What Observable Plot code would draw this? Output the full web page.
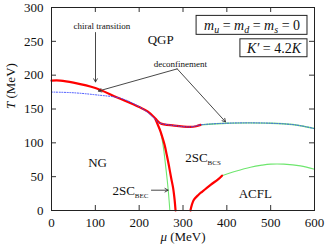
<!DOCTYPE html>
<html><head><meta charset="utf-8">
<script src="https://cdn.jsdelivr.net/npm/d3@7"></script>
<script src="https://cdn.jsdelivr.net/npm/@observablehq/plot@0.6"></script>
<style>body{margin:0;background:#fff} svg{display:block}</style>
</head><body><div id="chart"></div>
<script>
// ---- tick values ----
const xTicks = [0, 100, 200, 300, 400, 500, 600];
const yTicks = [0, 50, 100, 150, 200, 250, 300];

// ---- chiral transition (red, thick): crossover + first-order segment ----
const chiralMu = [0, 20, 50, 100, 150, 200, 220, 237, 248, 280, 317, 330, 340];
const chiralT  = [192, 192, 189, 181, 167, 153, 146, 136, 129, 125.5, 123.5, 124.5, 126.5];

// ---- deconfinement (blue dotted) ----
const deconfMu = [0, 50, 100, 157, 190, 215, 230, 242, 248, 280, 317, 340, 400, 450, 500, 550, 575, 600];
const deconfT  = [175, 174, 171, 166, 157, 147, 139, 131, 129, 125.5, 123.5, 126.5, 129, 129.5, 129, 127, 124.5, 121];

// ---- 2SC / QGP second-order boundary (green) ----
const qgpGreenMu = [340, 400, 450, 500, 550, 575, 600];
const qgpGreenT  = [126.5, 129, 129.5, 129, 127, 124.5, 121];

// ---- NG / 2SC first-order boundary (red, thick) ----
const ngRedMu = [237, 243, 248, 253, 258, 263, 267.5, 273, 277.6, 281, 283];
const ngRedT  = [135, 126, 118, 108, 97, 82, 67.6, 48, 32.8, 15, 0];

// ---- BEC-BCS line (green) ----
const becGreenMu = [246, 249, 252, 256, 260, 264, 267, 270];
const becGreenT  = [122, 116, 106, 90, 68, 45, 25, 0];

// ---- 2SC / ACFL boundary: first-order (red) then second-order (green) ----
const acflRedMu = [317, 320, 325, 335, 344, 363, 380, 389];
const acflRedT  = [0, 8, 16, 23, 28, 38, 46, 51.5];
const acflGreenMu = [389, 420, 454, 480, 500, 530, 568, 600];
const acflGreenT  = [51.5, 58, 64, 67, 68.5, 68.5, 66, 61];

// ---- phase labels ----
const phaseText = ["QGP", "NG", "ACFL"];
const phaseMu = [249, 105, 465];
const phaseT = [251.5, 70.6, 25];

const scText = ["2SC_BCS", "2SC_BEC"];
const scMu = [305, 139];
const scT = [78.4, 29.4];

// ---- annotations ----
const noteText = ["chiral transition", "deconfinement"];
const noteMu = [115, 294];
const noteT = [272, 216.6];

const arrowMu1 = [100.4, 286.8, 286.8, 228];
const arrowT1  = [263, 209.3, 209.3, 30];
const arrowMu2 = [100.4, 107, 397, 266];
const arrowT2  = [190, 176.5, 131, 30];

// ---- parameter boxes ----
const boxText = ["mass", "kprime"];
const boxMu1 = [331, 431];
const boxMu2 = [584, 584];
const boxT1 = [259.6, 226.5];
const boxT2 = [287.6, 253];

const pts = (xs, ys) => xs.map((x, i) => ({mu: x, T: ys[i]}));

const RED = "#ff0000", GREEN = "#6ee66e", BLUE = "#3f4fff";

const plot = Plot.plot({
  width: 326, height: 247,
  marginLeft: 51, marginRight: 12, marginTop: 7, marginBottom: 37,
  style: {fontFamily: "'Liberation Serif', 'Times New Roman', serif", fontSize: "13px", color: "#111", background: "#fff", overflow: "visible"},
  x: {domain: [0, 600]},
  y: {domain: [0, 300]},
  marks: [
    Plot.axisX({ticks: xTicks, tickSize: 0, tickPadding: 7, label: null}),
    Plot.axisY({ticks: yTicks, tickSize: 0, tickPadding: 8, label: null}),
    Plot.tickX(xTicks, {x: d => d, insetTop: 198, stroke: "#333"}),
    Plot.tickX(xTicks, {x: d => d, insetBottom: 198, stroke: "#333"}),
    Plot.tickY(yTicks, {y: d => d, insetRight: 258, stroke: "#333"}),
    Plot.tickY(yTicks, {y: d => d, insetLeft: 258, stroke: "#333"}),

    Plot.line(pts(acflGreenMu, acflGreenT), {x: "mu", y: "T", stroke: GREEN, strokeWidth: 1.1, curve: "catmull-rom"}),
    Plot.line(pts(qgpGreenMu, qgpGreenT), {x: "mu", y: "T", stroke: GREEN, strokeWidth: 1.4, curve: "catmull-rom"}),
    Plot.line(pts(becGreenMu, becGreenT), {x: "mu", y: "T", stroke: GREEN, strokeWidth: 1.1, curve: "catmull-rom"}),
    Plot.line(pts(chiralMu, chiralT), {x: "mu", y: "T", stroke: RED, strokeWidth: 2.2, curve: "catmull-rom"}),
    Plot.line(pts(ngRedMu, ngRedT), {x: "mu", y: "T", stroke: RED, strokeWidth: 2.2, curve: "catmull-rom"}),
    Plot.line(pts(acflRedMu, acflRedT), {x: "mu", y: "T", stroke: RED, strokeWidth: 2.2, curve: "catmull-rom"}),
    Plot.line(pts(deconfMu, deconfT), {x: "mu", y: "T", stroke: BLUE, strokeWidth: 1, strokeDasharray: "1,1.6", curve: "catmull-rom"}),

    Plot.arrow(arrowMu1.map((m, i) => ({x1: m, y1: arrowT1[i], x2: arrowMu2[i], y2: arrowT2[i]})),
      {x1: "x1", y1: "y1", x2: "x2", y2: "y2", stroke: "#333", strokeWidth: 0.9, headLength: 6, bend: 0}),

    Plot.rect(boxText.map((t, i) => ({x1: boxMu1[i], x2: boxMu2[i], y1: boxT1[i], y2: boxT2[i]})),
      {x1: "x1", x2: "x2", y1: "y1", y2: "y2", fill: "#fff", stroke: "#222", strokeWidth: 1}),
    Plot.text(boxText.map((t, i) => ({t, x: (boxMu1[i] + boxMu2[i]) / 2, y: (boxT1[i] + boxT2[i]) / 2})),
      {x: "x", y: "y", text: "t", fontSize: 14, fill: "#111"}),

    Plot.text(phaseText.map((t, i) => ({t, x: phaseMu[i], y: phaseT[i]})), {x: "x", y: "y", text: "t", fontSize: 13, fill: "#111"}),
    Plot.text(scText.map((t, i) => ({t, x: scMu[i], y: scT[i]})), {x: "x", y: "y", text: "t", fontSize: 13, textAnchor: "start", fill: "#111"}),
    Plot.text(noteText.map((t, i) => ({t, x: noteMu[i], y: noteT[i]})), {x: "x", y: "y", text: "t", fontSize: 9, fill: "#111"}),

    Plot.text(["ylabel"], {frameAnchor: "left", dx: -41, rotate: -90, text: d => d, fontSize: 13, fill: "#111"}),
    Plot.text(["xlabel"], {frameAnchor: "bottom", dy: 30, text: d => d, fontSize: 13, fill: "#111"}),

    Plot.frame({stroke: "#222", strokeWidth: 1})
  ]
});

// rich text (italics & subscripts)
const rich = {
  "mass": [{t: "m", i: 1}, {t: "u", i: 1, sub: 3, size: "10px"}, {t: " = "}, {t: "m", i: 1}, {t: "d", i: 1, sub: 3, size: "10px"}, {t: " = "}, {t: "m", i: 1}, {t: "s", i: 1, sub: 3, size: "10px"}, {t: " = 0"}],
  "kprime": [{t: "K′", i: 1}, {t: " = 4.2"}, {t: "K", i: 1}],
  "2SC_BCS": [{t: "2SC"}, {t: "BCS", sub: 3, size: "7px"}],
  "2SC_BEC": [{t: "2SC"}, {t: "BEC", sub: 3, size: "7px"}],
  "ylabel": [{t: "T", i: 1}, {t: " (MeV)"}],
  "xlabel": [{t: "μ", i: 1}, {t: " (MeV)"}]
};
d3.select(plot).selectAll("text").each(function() {
  const key = this.textContent;
  if (!(key in rich)) return;
  this.textContent = "";
  let shift = 0;
  for (const seg of rich[key]) {
    const ts = document.createElementNS("http://www.w3.org/2000/svg", "tspan");
    ts.textContent = seg.t;
    if (seg.i) ts.setAttribute("font-style", "italic");
    if (seg.size) ts.setAttribute("font-size", seg.size);
    const want = seg.sub || 0;
    if (want !== shift) { ts.setAttribute("dy", want - shift); shift = want; }
    this.appendChild(ts);
  }
});

document.getElementById("chart").appendChild(plot);
</script>
</body></html>
